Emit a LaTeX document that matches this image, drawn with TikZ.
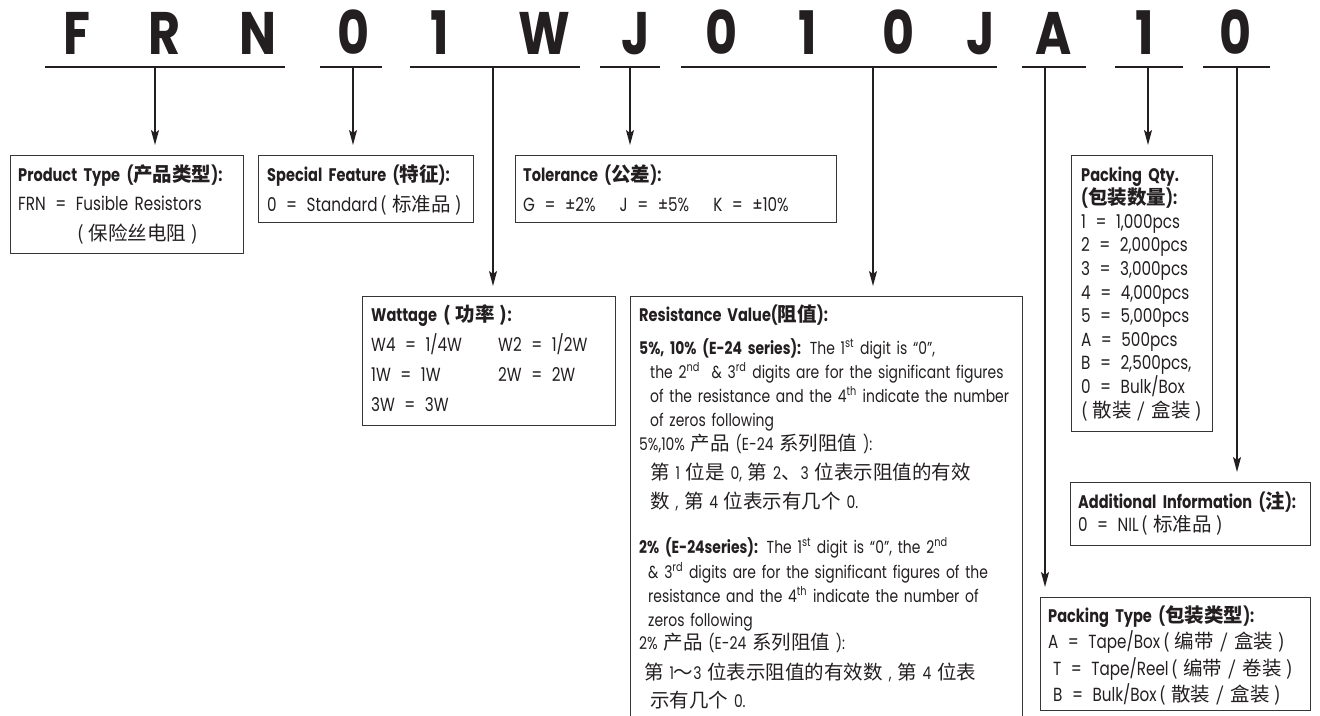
\documentclass[tikz,border=0pt]{standalone}
\usepackage{fontspec}
\setmainfont{Poppins}[FakeStretch=0.8]
\newfontfamily\codefont{Poppins}[FakeStretch=0.82]
\newfontfamily\cjk{Noto Sans CJK SC}
\usetikzlibrary{arrows.meta,positioning}
\definecolor{ink}{RGB}{35,31,32}
\newcommand\zh[1]{{\cjk\fontsize{19.5}{24}\selectfont #1}}
\newcommand\zp[1]{\zh{(\hspace{0.25em}#1\hspace{0.25em})}}
\newcommand\ord[1]{\textsuperscript{#1}}
\newcommand\eq{\hspace{0.5em}=\hspace{0.5em}}
\newcommand\hd[1]{{\fontsize{18.2}{20}\selectfont\bfseries #1}}
\newcommand\bodyfont[2]{\fontsize{#1}{#2}\selectfont}

\begin{document}
\begin{tikzpicture}[x=1pt, y=-1pt, >={Stealth[length=15pt,width=8pt,inset=3pt]},
  code/.style={font=\codefont\fontsize{60}{60}\selectfont\bfseries, text=ink, inner sep=0pt, anchor=base},
  uline/.style={draw=ink, line width=2pt},
  arr/.style={->, draw=ink, line width=1.3pt, shorten >=10pt},
  box/.style={draw=ink!90, line width=1.2pt, anchor=north west, inner sep=0pt},
  txt/.style={anchor=base west, align=left, text width=420pt, inner sep=0pt, text=ink, font=\bodyfont{19}{24}}]
  \useasboundingbox (0,0) rectangle (1320,715);

  % part number
  \foreach \ch/\x [count=\i] in {F/77,R/165,N/258,0/354,1/440,W/544,J/636,0/722,1/808,0/899,J/981,A/1054,1/1145,0/1236}
    \node[code] (c\i) at (\x,54) {\ch};
  \foreach \a/\b in {45/285,320/382,410/580,600/660,681/997,1022/1086,1115/1183,1203/1270}
    \draw[uline] (\a,67) -- (\b,67);

  % boxes
  \node[box, minimum width=233, minimum height=98] (ptype) at (10,155) {};
  \node[box, minimum width=215, minimum height=67] (sfeat) at (258,155) {};
  \node[box, minimum width=321, minimum height=67] (tol) at (515,155) {};
  \node[box, minimum width=141, minimum height=276] (pqty) at (1071,155) {};
  \node[box, minimum width=253, minimum height=129] (watt) at (362,296) {};
  \node[box, minimum width=392, minimum height=440] (resv) at (630,296) {};
  \node[box, minimum width=240, minimum height=63] (addinfo) at (1070,482) {};
  \node[box, minimum width=270, minimum height=113] (pkgtype) at (1040,597) {};

  % texts
  \node[txt, font=\bodyfont{19}{29.5}] (ptypetxt) at ([shift={(8,26)}]ptype.north west)
    {\hd{Product Type (\zh{产品类型}):}\\
     FRN\eq Fusible Resistors\\
     \hspace*{59pt}\zp{保险丝电阻}};
  \node[txt, font=\bodyfont{19}{30}] (sfeattxt) at ([shift={(9,26)}]sfeat.north west)
    {\hd{Special Feature (\zh{特征}):}\\
     0\eq Standard\,\zp{标准品}};
  \node[txt, font=\bodyfont{19}{30}] (toltxt) at ([shift={(8,26)}]tol.north west)
    {\hd{Tolerance (\zh{公差}):}\\
     G\eq ±2\%\hspace{24pt}J\eq ±5\%\hspace{24pt}K\eq ±10\%};
  \node[txt, font=\bodyfont{19}{23.6}] (pqtytxt) at ([shift={(10,26)}]pqty.north west)
    {\hd{Packing Qty.}\\
     \hd{(\zh{包装数量}):}\\
     1\eq 1,000pcs\\
     2\eq 2,000pcs\\
     3\eq 3,000pcs\\
     4\eq 4,000pcs\\
     5\eq 5,000pcs\\
     A\eq 500pcs\\
     B\eq 2,500pcs,\\
     0\eq Bulk/Box\\
     \zp{散装 / 盒装}};
  \node[txt, font=\bodyfont{19}{30}] (watttxt) at ([shift={(9,25)}]watt.north west)
    {\hd{Wattage \zp{功率}:}\\
     \makebox[127pt][l]{W4\eq 1/4W}W2\eq 1/2W\\
     \makebox[127pt][l]{1W\eq 1W}2W\eq 2W\\
     3W\eq 3W};
  \node[txt, font=\bodyfont{17.4}{24}] (resvtxt) at ([shift={(9,25)}]resv.north west)
    {\hd{Resistance Value(\zh{阻值}):}\\[9pt]
     {\bfseries 5\%, 10\% (E-24 series):} The 1\ord{st} digit is “0”,\\
     \hspace*{11pt}the 2\ord{nd}\ \ \& 3\ord{rd} digits are for the significant figures\\
     \hspace*{11pt}of the resistance and the 4\ord{th} indicate the number\\
     \hspace*{11pt}of zeros following\\[0pt]
     5\%,10\% \zh{产品} (E-24 \zh{系列阻值} ):\\[5pt]
     \hspace*{11pt}\zh{第} 1 \zh{位是} 0, \zh{第} 2\zh{、}3 \zh{位表示阻值的有效}\\[5pt]
     \hspace*{11pt}\zh{数} , \zh{第} 4 \zh{位表示有几个} 0.\\[21pt]
     {\bfseries 2\% (E-24series):} The 1\ord{st} digit is “0”, the 2\ord{nd}\\[1pt]
     \hspace*{9pt}\& 3\ord{rd} digits are for the significant figures of the\\
     \hspace*{9pt}resistance and the 4\ord{th} indicate the number of\\
     \hspace*{9pt}zeros following\\[-1pt]
     2\% \zh{产品} (E-24 \zh{系列阻值} ):\\[6pt]
     \hspace*{5pt}\zh{第} 1\zh{～}3 \zh{位表示阻值的有效数} , \zh{第} 4 \zh{位表}\\[4pt]
     \hspace*{11pt}\zh{示有几个} 0.};
  \node[txt, font=\bodyfont{19}{23}] (addinfotxt) at ([shift={(8,26)}]addinfo.north west)
    {\hd{Additional Information (\zh{注}):}\\
     0\eq NIL\,\zp{标准品}};
  \node[txt, font=\bodyfont{19}{26.5}] (pkgtypetxt) at ([shift={(8,25)}]pkgtype.north west)
    {\hd{Packing Type (\zh{包装类型}):}\\
     A\eq Tape/Box\,\zp{编带 / 盒装}\\
     \hspace*{5pt}T\eq Tape/Reel\,\zp{编带 / 卷装}\\
     \hspace*{5pt}B\eq Bulk/Box\,\zp{散装 / 盒装}};

  % arrows
  \coordinate (tFRN) at (155,67);
  \coordinate (tSF) at (353,67);
  \coordinate (tW) at (493,67);
  \coordinate (tTol) at (630,67);
  \coordinate (tRes) at (873,67);
  \coordinate (tPT) at (1045,67);
  \coordinate (tQty) at (1148,67);
  \coordinate (tAdd) at (1237,67);
  \draw[arr] (tFRN) -- (tFRN |- ptype.north);
  \draw[arr] (tSF) -- (tSF |- sfeat.north);
  \draw[arr] (tW) -- (tW |- watt.north);
  \draw[arr] (tTol) -- (tTol |- tol.north);
  \draw[arr] (tRes) -- (tRes |- resv.north);
  \draw[arr] (tPT) -- (tPT |- pkgtype.north);
  \draw[arr] (tQty) -- (tQty |- pqty.north);
  \draw[arr] (tAdd) -- (tAdd |- addinfo.north);
\end{tikzpicture}
\end{document}
